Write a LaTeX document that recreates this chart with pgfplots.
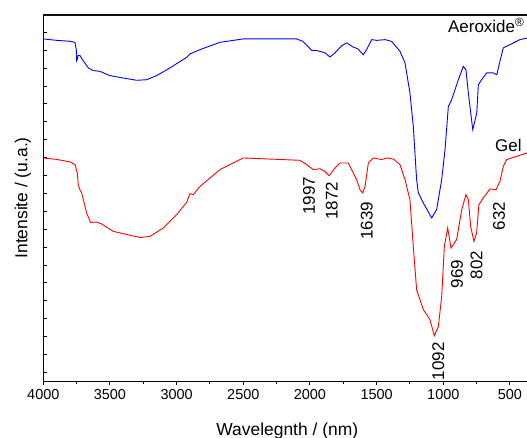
\documentclass[border=0pt]{standalone}
\usepackage{pgfplots}
\pgfplotsset{compat=1.18}
\usepackage{fontspec}
\setmainfont{Liberation Sans}
\begin{document}
\begin{tikzpicture}
\useasboundingbox (-43.3bp,-56.3bp) rectangle (483.7bp,381.4bp);
\begin{axis}[
  at={(0,0)}, anchor=south west,
  scale only axis,
  width=493.33bp, height=367bp,
  axis lines*=left,
  x dir=reverse,
  xmin=300, xmax=4000,
  ymin=-0.5, ymax=20,
  xtick={500,1000,...,4000},
  minor x tick num=1,
  ytick={0,1,...,20},
  yticklabels={},
  tick align=outside,
  major tick length=3.3bp,
  minor tick length=2.5bp,
  y tick style={xshift=3.3bp},
  axis line style={line width=1.1bp},
  tick style={line width=1bp, black},
  /pgf/number format/1000 sep={},
  /pgf/number format/assume math mode=true,
  tick label style={font=\fontsize{14.5}{17}\selectfont},
  xticklabel style={yshift=-1.5bp},
  xlabel={Wavelegnth / (nm)},
  ylabel={Intensite / (u.a.)},
  every axis x label/.style={at={(axis description cs:0.4945,-0.135)},anchor=center,font=\fontsize{17.5}{20}\selectfont},
  every axis y label/.style={at={(axis description cs:-0.0415,0.5)},rotate=90,anchor=center,font=\fontsize{17.5}{20}\selectfont},
  clip=false,
]
\addplot[blue, line width=0.9bp] coordinates {
(4000,18.63) (3900,18.55) (3800,18.50) (3770,18.45) (3762,18.41) (3752,18.0)
(3750,17.42) (3745,17.5) (3740,17.70) (3725,17.70) (3700,17.4) (3662,17.01)
(3625,16.86) (3575,16.82) (3500,16.58) (3425,16.48) (3300,16.32) (3225,16.35)
(3150,16.58) (3050,17.01) (2925,17.60) (2900,17.79) (2825,18.03) (2675,18.44)
(2500,18.63) (2100,18.63) (2052,18.49) (1987,17.99) (1940,17.97) (1887,17.85)
(1850,17.62) (1812,17.85) (1762,18.25) (1725,18.41) (1677,18.18) (1640,18.07)
(1600,17.75) (1575,18.03) (1537,18.59) (1500,18.55) (1437,18.59) (1387,18.49)
(1325,17.94) (1287,17.29) (1250,15.61) (1225,13.75) (1200,10.77) (1187,10.03)
(1150,9.47) (1087,8.63) (1050,9.09) (1012,10.77) (987,12.44) (962,14.86)
(937,15.24) (887,16.35) (850,17.10) (830,16.91) (812,15.61) (779,13.56)
(749,14.49) (737,16.08) (712,16.35) (675,16.73) (625,16.73) (599,16.63)
(575,17.38) (550,18.13) (500,18.31) (425,18.59) (372,18.68)
};
\addplot[red, line width=0.9bp] coordinates {
(4000,11.98) (3900,11.90) (3800,11.76) (3762,11.61) (3745,11.14) (3738,10.49)
(3725,10.2) (3712,10.03) (3675,8.91) (3645,8.38) (3600,8.40) (3562,8.29)
(3475,7.88) (3400,7.75) (3275,7.54) (3200,7.60) (3100,8.07) (3000,8.81)
(2925,9.50) (2900,9.99) (2875,9.93) (2825,10.39) (2675,11.33) (2500,11.98)
(2075,11.85) (2025,11.61) (1975,11.33) (1925,11.38) (1887,11.23) (1855,10.99)
(1812,11.42) (1775,11.70) (1712,11.70) (1675,11.14) (1650,10.77) (1625,10.21)
(1605,10.03) (1587,10.39) (1562,11.70) (1525,11.98) (1462,11.89) (1425,11.98)
(1375,11.92) (1325,11.61) (1287,10.77) (1250,9.65) (1225,7.04) (1200,4.62)
(1150,3.51) (1100,2.95) (1067,2.05) (1037,2.57) (1012,4.25) (992,7.04)
(967,8.07) (942,6.95) (900,7.42) (862,9.09) (830,9.93) (812,9.65)
(795,8.16) (770,7.32) (750,7.79) (733,9.37) (700,9.75) (650,10.25)
(605,10.21) (575,10.67) (550,11.51) (525,11.89) (450,12.07) (372,12.26)
};
\node[anchor=base west, inner sep=0, font=\fontsize{17}{20}\selectfont] at (axis cs:965,18.98) {Aeroxide\textsuperscript{\textregistered}};
\node[anchor=base west, inner sep=0, font=\fontsize{17}{20}\selectfont] at (axis cs:612,12.35) {Gel};
\begin{scope}[every node/.style={rotate=90, anchor=east, inner sep=0, font=\fontsize{17}{20}\selectfont}]
\node at (axis cs:2007,10.92) {1997};
\node at (axis cs:1837,10.66) {1872};
\node at (axis cs:1574,9.54) {1639};
\node at (axis cs:897,6.30) {969};
\node at (axis cs:750,6.80) {802};
\node at (axis cs:582,9.54) {632};
\node at (axis cs:1037,1.68) {1092};
\end{scope}
\end{axis}
\draw[line width=1.3bp, color={rgb,1:red,0.05;green,0.05;blue,0.05}] (-0.55bp,366.5bp) -- (483.7bp,366.5bp);
\end{tikzpicture}
\end{document}
